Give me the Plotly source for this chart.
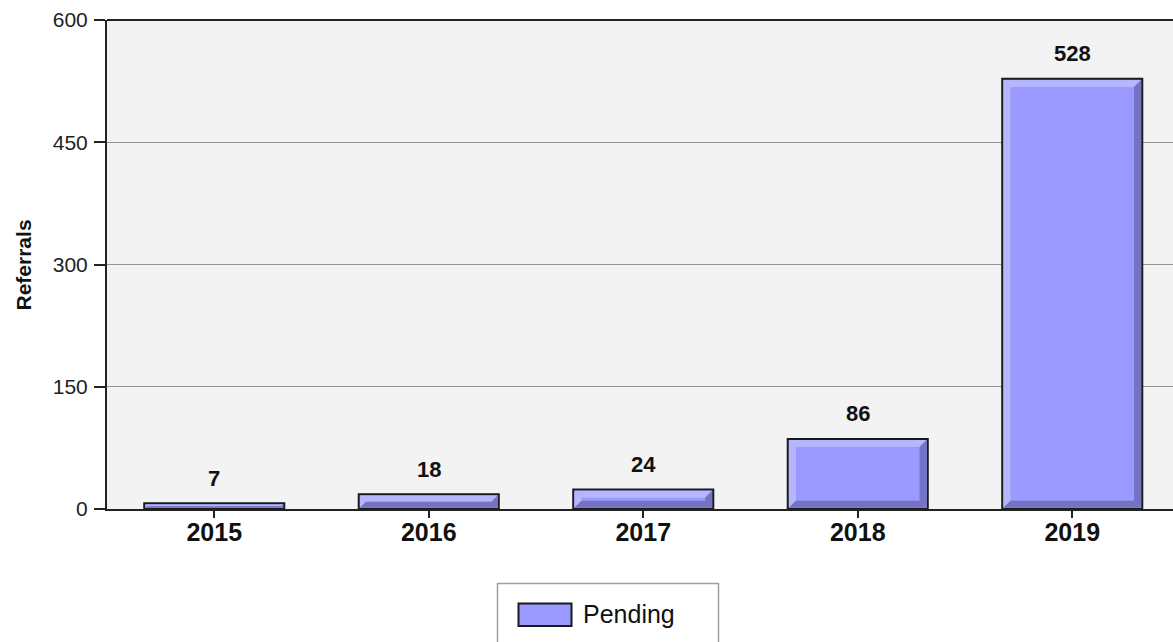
import plotly.graph_objects as go

# ---- data ----
years = ["2015", "2016", "2017", "2018", "2019"]
pending = [7, 18, 24, 86, 528]
series_name = "Pending"
y_ticks = [0, 150, 300, 450, 600]

# ---- figure geometry (pixels) ----
W, H = 1173, 642
L, R, T, B = 107, 0, 20, 133
PW, PH = W - L - R, H - T - B

BAND_PX = 214.5                      # width of one category band
x_range = [-0.5, -0.5 + PW / BAND_PX]
y_range = [0, 600]
ux = (x_range[1] - x_range[0]) / PW  # x data units per pixel
uy = (y_range[1] - y_range[0]) / PH  # y data units per pixel

BAR_W = 0.653
FILL = "#9999ff"
LIGHT = "#b6b6ff"
DARK = "#7373c2"
FONT = "Liberation Sans, Arial, sans-serif"
INK = "#111111"


def px_x(p):
    return (p - L) / PW


def px_y(p):
    return (H - B - p) / PH


idx = list(range(len(years)))

fig = go.Figure()
fig.add_trace(go.Bar(
    x=idx, y=pending, width=BAR_W, name=series_name,
    marker=dict(color=FILL, line=dict(color="#1a1a1a", width=2)),
    showlegend=False, hoverinfo="x+y",
))

shapes = []
# bevelled edges on each bar: light top/left, dark bottom/right
for i, v in zip(idx, pending):
    x0 = i - BAR_W / 2 + 1.2 * ux
    x1 = i + BAR_W / 2 - 1.2 * ux
    y0 = 1.2 * uy
    y1 = v - 1.2 * uy
    t = min(7.0, max(0.0, (v / uy - 2.4) / 2))
    tx, ty = t * ux, t * uy
    if t <= 0:
        continue
    polys = [
        ([(x0, y1), (x1, y1), (x1 - tx, y1 - ty), (x0 + tx, y1 - ty)], LIGHT),
        ([(x0, y0), (x0, y1), (x0 + tx, y1 - ty), (x0 + tx, y0 + ty)], LIGHT),
        ([(x1, y1), (x1, y0), (x1 - tx, y0 + ty), (x1 - tx, y1 - ty)], DARK),
        ([(x0, y0), (x1, y0), (x1 - tx, y0 + ty), (x0 + tx, y0 + ty)], DARK),
    ]
    for pts, col in polys:
        path = "M " + " L ".join(f"{a},{b}" for a, b in pts) + " Z"
        shapes.append(dict(type="path", xref="x", yref="y", path=path,
                           fillcolor=col, line=dict(width=0), layer="above"))

# top border of the plotting area
shapes.append(dict(type="line", xref="paper", yref="paper", x0=0, x1=1,
                   y0=1, y1=1, line=dict(color="#222222", width=2)))

# legend box and swatch
shapes.append(dict(type="rect", xref="paper", yref="paper",
                   x0=px_x(497.5), x1=px_x(718.5), y0=px_y(660), y1=px_y(583.5),
                   fillcolor="white", line=dict(color="#a0a0a0", width=1.5)))
shapes.append(dict(type="rect", xref="paper", yref="paper",
                   x0=px_x(518.5), x1=px_x(571.5), y0=px_y(626), y1=px_y(603.5),
                   fillcolor=FILL, line=dict(color="#1a1a1a", width=2)))

annotations = []
# value labels above bars
for i, v in zip(idx, pending):
    annotations.append(dict(
        x=i, y=v, xref="x", yref="y", text=f"<b>{v}</b>", showarrow=False,
        yanchor="middle", yshift=25,
        font=dict(family=FONT, size=22, color=INK),
    ))
# y-axis title
annotations.append(dict(
    x=px_x(23), y=px_y(265.5), xref="paper", yref="paper",
    text="<b>Referrals</b>", textangle=-90, showarrow=False,
    xanchor="center", yanchor="middle",
    font=dict(family=FONT, size=21, color=INK),
))
# legend label
annotations.append(dict(
    x=px_x(581), y=px_y(614), xref="paper", yref="paper",
    text=series_name, showarrow=False, xanchor="left", yanchor="middle",
    font=dict(family=FONT, size=25, color=INK),
))

fig.update_layout(
    width=W, height=H,
    margin=dict(l=L, r=R, t=T, b=B, autoexpand=False),
    paper_bgcolor="white", plot_bgcolor="#f3f3f3",
    showlegend=False,
    shapes=shapes, annotations=annotations,
    xaxis=dict(
        range=x_range, tickmode="array", tickvals=idx,
        ticktext=[f"<b>{y}</b>" for y in years],
        tickfont=dict(family=FONT, size=25, color=INK),
        showgrid=False, zeroline=False,
        showline=True, linecolor="#222222", linewidth=2,
        ticks="outside", ticklen=7, tickwidth=1.5, tickcolor="#222222",
        ticklabelstandoff=-7,
        fixedrange=True,
    ),
    yaxis=dict(
        range=y_range, tickmode="array", tickvals=y_ticks,
        tickfont=dict(family=FONT, size=21, color="#222222"),
        showgrid=True, gridcolor="#959595", gridwidth=1,
        zeroline=False,
        showline=True, linecolor="#222222", linewidth=2,
        ticks="outside", ticklen=11, tickwidth=1.5, tickcolor="#222222",
        ticklabelstandoff=2,
        fixedrange=True,
    ),
)

fig.write_html("out.html")
